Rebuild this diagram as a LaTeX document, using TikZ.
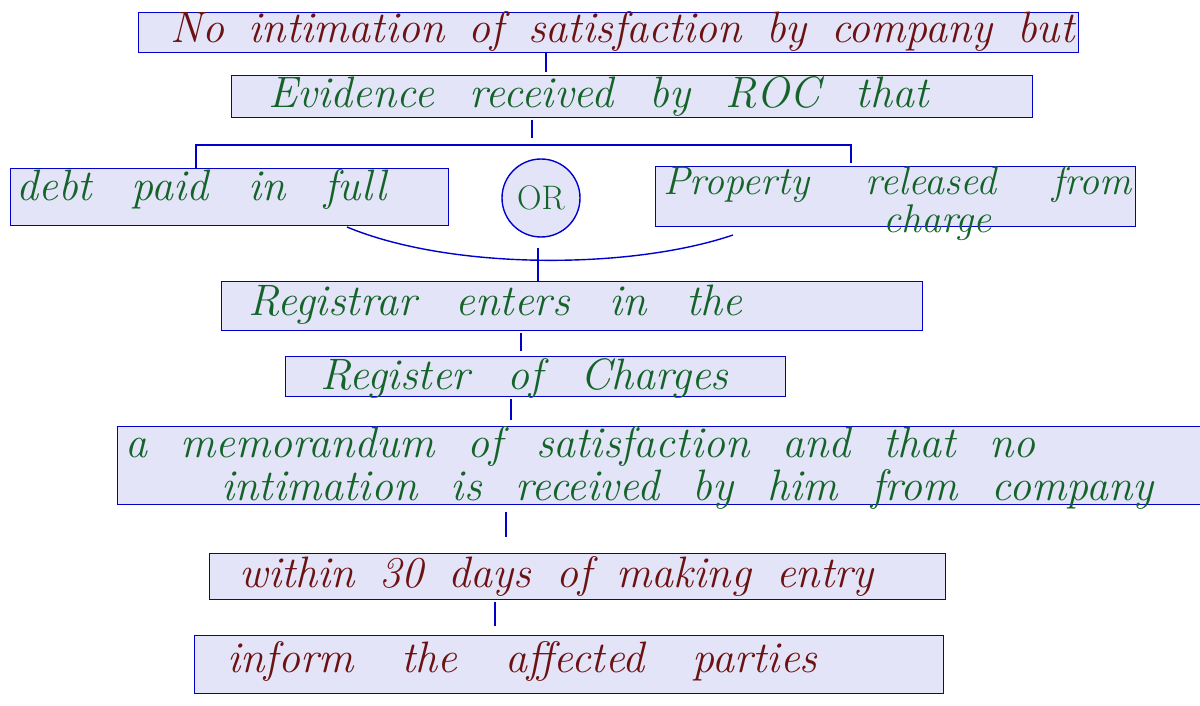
\documentclass[tikz,border=0pt]{standalone}
\usetikzlibrary{positioning, calc}
\definecolor{boxfill}{RGB}{228,228,248}
\definecolor{boxline}{RGB}{0,0,205}
\definecolor{inkred}{RGB}{108,18,18}
\definecolor{inkgreen}{RGB}{20,100,42}
\newcommand{\spread}[2]{\makebox[#1][s]{#2}}
\tikzset{
  box/.style={draw=boxline, fill=boxfill, line width=0.7pt, inner sep=0pt, anchor=north west},
  link/.style={draw=boxline, line width=0.7pt},
  txt/.style={anchor=base west, inner sep=0pt, font=\fontsize{22}{26}\selectfont\itshape},
}
\begin{document}
\begin{tikzpicture}[x=0.5pt,y=-0.5pt]
\useasboundingbox (0,0) rectangle (1200,706);

% Boxes
\node[box, minimum width=470pt, minimum height=20pt] (nosat) at (138,12) {};
\node[box, minimum width=400.5pt, minimum height=21pt] (evid) at (231,75) {};
\node[box, minimum width=219pt, minimum height=28.5pt] (debt) at (10,168) {};
\node[box, circle, anchor=center, minimum size=39pt, text=inkgreen,
      font=\fontsize{17}{20}\selectfont] (orc) at (541,198) {OR};
\node[box, minimum width=240pt, minimum height=30pt] (prop) at (655,166) {};
\node[box, minimum width=350.5pt, minimum height=24.5pt] (regr) at (221,281) {};
\node[box, minimum width=250pt, minimum height=20pt] (regc) at (285,356) {};
\node[box, minimum width=545pt, minimum height=39pt] (memo) at (117,426) {};
\node[box, minimum width=368pt, minimum height=23pt] (within) at (209,553) {};
\node[box, minimum width=374.5pt, minimum height=29pt] (inform) at (194,635) {};

% Texts
\node[txt, text=inkred] (tnosat) at (170,43) {\spread{452pt}{No intimation of satisfaction by company but}};
\node[txt, text=inkgreen] (tevid) at (268,108) {\spread{330pt}{Evidence received by ROC that}};
\node[txt, text=inkgreen] (tdebt) at (16,200) {\spread{185pt}{debt paid in full}};
\node[txt, text=inkgreen, align=center, anchor=north west,
      font=\fontsize{20}{24}\selectfont\itshape] (tprop) at (663,166)
  {\spread{234pt}{Property released from}\\[-5pt]\hspace*{40pt}charge};
\node[txt, text=inkgreen] (tregr) at (248,315) {\spread{247pt}{Registrar enters in the}};
\node[txt, text=inkgreen] (tregc) at (320,389) {\spread{204pt}{Register of Charges}};
\node[txt, text=inkgreen] (tmemoA) at (125,457) {\spread{455pt}{a memorandum of satisfaction and that no}};
\node[txt, text=inkgreen] (tmemoB) at (221,500) {\spread{466pt}{intimation is received by him from company}};
\node[txt, text=inkred] (twithin) at (239,587) {\spread{317pt}{within 30 days of making entry}};
\node[txt, text=inkred] (tinform) at (227,672) {\spread{295pt}{inform the affected parties}};

% Connectors
\coordinate (xa) at (546,0);
\coordinate (tap) at (532,143);
\coordinate (forkL) at (196,145);
\coordinate (forkR) at (851,145);
\coordinate (joinL) at (347,227);
\coordinate (joinR) at (733,235);
\coordinate (joinM) at (538,248);
\coordinate (xb) at (521,0);
\coordinate (xc) at (511,0);
\coordinate (xd) at (506,0);
\coordinate (xe) at (495,0);

\draw[link, shorten >=1.5pt] (nosat.south -| xa) -- (evid.north -| xa);
\draw[link, shorten <=1pt, shorten >=2.5pt] (evid.south -| tap) -- (tap);
\draw[link, shorten >=1.5pt] (debt.north -| forkL) -- (forkL) -- (forkR) -- (prop.north -| forkR);
\draw[link] (joinL) .. controls (450,270) and (630,270) .. (joinR);
\draw[link] (joinM) -- (regr.north -| joinM);
\draw[link, shorten <=1pt, shorten >=2.5pt] (regr.south -| xb) -- (regc.north -| xb);
\draw[link, shorten <=1pt, shorten >=3pt] (regc.south -| xc) -- (memo.north -| xc);
\draw[link, shorten <=3.5pt, shorten >=8pt] (memo.south -| xd) -- (within.north -| xd);
\draw[link, shorten <=1pt, shorten >=4.5pt] (within.south -| xe) -- (inform.north -| xe);
\end{tikzpicture}
\end{document}
